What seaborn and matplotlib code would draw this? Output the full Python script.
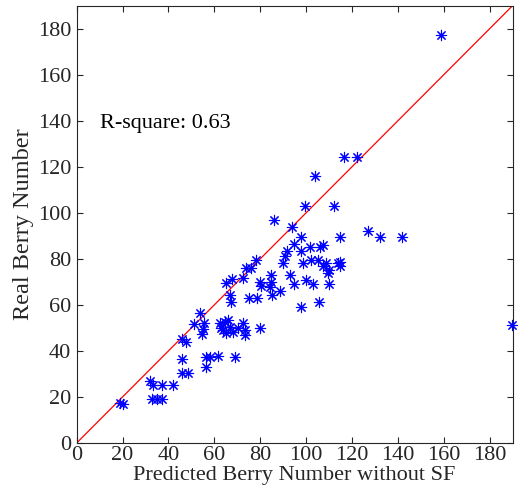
import numpy as np
import pandas as pd
import seaborn as sns
from matplotlib import pyplot as plt

# predicted (without SF) vs real berry number
pred = [158.7, 189.8, 116.7, 122.0, 103.9, 99.7, 112.0, 86.1, 93.9, 126.8,
        132.2, 141.7, 114.8, 97.8, 94.9, 91.6, 90.6, 89.8, 97.8, 101.7,
        106.1, 107.2, 98.8, 102.2, 105.0, 108.7, 107.2, 109.8, 109.4, 113.7,
        114.8, 114.8, 93.0, 100.0, 94.9, 102.9, 109.8, 88.8, 105.8, 97.8,
        78.0, 73.9, 76.1, 72.4, 67.8, 64.9, 66.7, 67.4, 75.0, 78.5,
        80.0, 80.4, 84.8, 84.8, 84.3, 85.2,
        53.9, 51.0, 55.5, 54.5, 55.0, 45.9, 47.8,
        62.3, 64.5, 65.9, 66.7, 63.8, 65.2, 68.1, 72.4, 73.2, 73.2, 79.7,
        70.3, 63.0,
        61.6, 68.8, 56.5, 58.0, 56.2,
        18.8, 20.0, 31.9, 33.3, 37.0, 42.0, 33.0, 35.0, 37.0, 46.1, 46.1, 48.5]
real = [177.1, 51.4, 124.3, 124.2, 116.1, 103.0, 103.0, 97.0, 94.0, 92.2,
        89.3, 89.3, 89.3, 89.3, 86.4, 83.2, 81.3, 78.4, 83.2, 85.1,
        85.3, 86.1, 78.4, 79.3, 79.3, 78.4, 77.0, 75.2, 74.0, 78.4,
        78.8, 77.0, 73.0, 71.0, 69.0, 69.0, 69.0, 66.2, 61.2, 59.0,
        79.6, 76.0, 76.0, 71.6, 71.2, 69.4, 64.3, 61.4, 62.8, 62.8,
        70.1, 68.3, 73.0, 70.1, 67.7, 64.3,
        56.4, 51.8, 52.0, 47.2, 49.3, 45.3, 44.0,
        52.0, 52.7, 53.5, 50.6, 49.1, 47.7, 48.4, 52.0, 49.1, 46.9, 50.1,
        49.9, 49.9,
        37.8, 37.5, 37.3, 37.3, 33.2,
        17.3, 17.0, 27.1, 25.2, 25.2, 25.2, 19.0, 19.0, 19.0, 36.4, 30.6, 30.6]
diag = [0, 190]
ticks = list(range(0, 181, 20))
r2_text = "R-square: 0.63"

df = pd.DataFrame({'pred': pred, 'real': real})

sns.set_style("ticks")
plt.rcParams['font.family'] = ['Liberation Serif', 'DejaVu Serif']
grey = '#262626'

fig = plt.figure(figsize=(5.18, 5.01), dpi=100)
ax = fig.add_axes([0.148, 0.1158, 0.8417, 0.873])

# 1:1 line
sns.lineplot(x=diag, y=diag, ax=ax, color='red', linewidth=0.9)

# scatter of asterisks
sns.scatterplot(data=df, x='pred', y='real', ax=ax, marker=(8, 2, 0),
                s=55, color='blue', linewidth=0.8, clip_on=False, zorder=3)

ax.set_xlim(0, 190)
ax.set_ylim(0, 190)
ax.set_xticks(ticks)
ax.set_yticks(ticks)
ax.tick_params(direction='in', top=True, right=True, length=4,
               width=0.8, color=grey, labelcolor=grey, labelsize=16)
ax.tick_params(axis='x', pad=2)
ax.tick_params(axis='y', pad=4)
for sp in ax.spines.values():
    sp.set_color(grey)
    sp.set_linewidth(0.8)

ax.set_xlabel("Predicted Berry Number without SF", fontsize=16,
              color=grey, labelpad=1)
ax.set_ylabel("Real Berry Number", fontsize=17.5, color=grey, labelpad=3)
ax.text(10, 139, r2_text, fontsize=16, color='black', va='center')

fig.savefig("out.png", dpi=100)
